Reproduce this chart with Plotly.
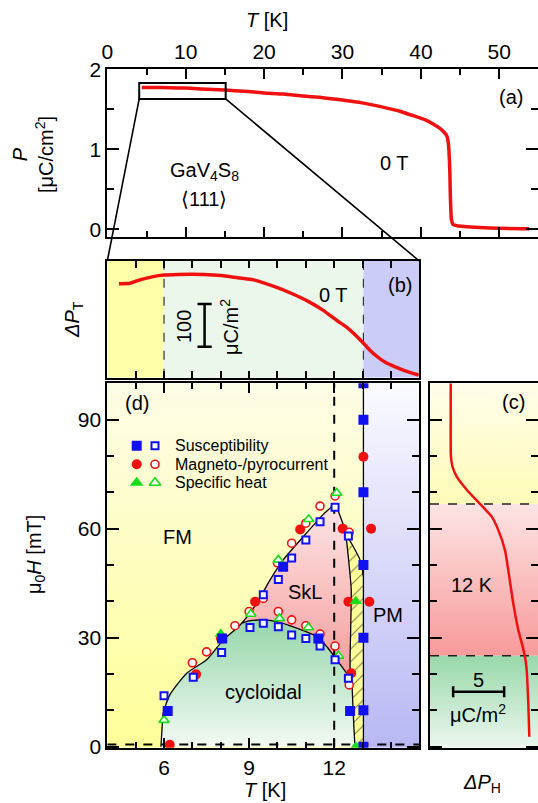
import plotly.graph_objects as go

FONT = "Liberation Sans, Arial, Helvetica, sans-serif"
W, HT = 538, 803

# ---------------- data ----------------
# (a) polarisation P(T) at 0 T  [uC/cm^2]
pa_T = [4.4, 6, 8, 10, 12, 15, 17.5, 20, 22.5, 25, 27.5, 30, 32.5, 35, 37.5, 39, 40.5, 41.5,
        42.3, 42.9, 43.3, 43.5, 43.6, 43.7, 43.75, 43.82, 43.9, 44.1, 44.6, 45.5, 47.5, 50, 53.8]
pa_P = [1.772, 1.772, 1.770, 1.765, 1.755, 1.740, 1.725, 1.705, 1.690, 1.665, 1.645, 1.615, 1.580,
        1.530, 1.470, 1.420, 1.370, 1.320, 1.270, 1.220, 1.170, 1.08, 0.95, 0.70, 0.45, 0.25, 0.12,
        0.06, 0.045, 0.035, 0.022, 0.012, 0.008]

# (b) Delta P_T at 0 T  [uC/m^2, arbitrary offset]
pb_T = [4.41, 4.8, 5.15, 5.62, 6.0, 6.5, 7.0, 7.74, 8.3, 8.69, 9.15, 9.9, 10.5, 11.1, 11.6,
        12.07, 12.4, 12.68, 12.98, 13.25, 13.52, 13.8, 14.13, 14.5, 14.98]
pb_dP = [220, 221, 229, 236.5, 240, 241.5, 242, 240.5, 237, 233, 228.8, 213, 197, 178, 158,
         135, 120, 104, 84.3, 65, 49, 36, 25.8, 16, 6.3]

# (c) Delta P_H at 12 K  [uC/m^2, arbitrary offset] vs mu0H [mT]
pc_H = [100, 90, 80, 77.1, 74.3, 70.7, 66.8, 63.3, 59.6, 54.1, 46.8, 39.5, 32.1, 27.5, 24.8, 21.1, 11.9, 2.75]
pc_dP = [2.03, 2.03, 2.05, 2.2, 2.62, 3.6, 4.9, 6.05, 6.7, 7.35, 7.77, 8.16, 8.66, 9.09, 9.31, 9.48, 9.64, 9.74]

# (d) phase boundaries (T [K], mu0H [mT])
fm_T = [5.89, 5.93, 5.97, 6.2, 6.8, 7.5, 8.09, 8.68, 9.27, 9.74, 10.2, 10.91, 11.6, 12.05]
fm_H = [0, 5, 9.2, 14.2, 20.2, 23.9, 29.4, 33.5, 39.5, 45.9, 51.4, 57.8, 63.8, 67.0]
dome_T = [8.75, 9.0, 9.5, 9.97, 10.68, 11.38, 11.74, 12.09, 12.44, 12.62]
dome_H = [34.0, 34.6, 34.9, 34.4, 32.6, 30.3, 27.5, 23.9, 20.2, 18.0]
sklr_T = [12.05, 12.15, 12.38, 12.5, 12.6, 12.58, 12.56, 12.62, 12.67, 12.73]
sklr_H = [67.0, 64.7, 59.6, 52.0, 43.1, 32.0, 22.0, 18.0, 9.2, 0]
hatch_T = [12.40, 12.91, 13.03]
hatch_H = [58.8, 51.4, 46.8]
T_PM = 13.03
T_CYC = 6.0
T_MEAS = 12.0
H_SKL_LO, H_SKL_HI = 25.0, 66.8

# (d) data points
chi_f_T = [13.03, 13.03, 13.03, 13.03, 13.03, 13.03, 13.03, 6.13, 8.05, 10.2, 11.44, 12.56]
chi_f_H = [0, 10, 30, 50, 70, 90, 100, 9.8, 29.8, 49.5, 29.8, 9.8]
chi_o_T = [6.0, 7.03, 8.03, 9.03, 9.5, 10.03, 10.5, 11.0, 11.5, 12.03, 12.5,
           9.5, 10.03, 10.5, 11.0, 11.5, 12.03, 12.5]
chi_o_H = [14.0, 19.1, 25.9, 32.8, 34.0, 33.0, 30.7, 29.8, 27.7, 23.9, 18.8,
           41.8, 46.0, 51.9, 56.9, 61.9, 65.9, 58.0]
mc_f_T = [6.2, 7.13, 8.05, 9.21, 10.8, 12.3, 13.3, 12.5, 13.24, 12.6, 13.03]
mc_f_H = [0.5, 19.9, 29.8, 39.9, 59.8, 60.0, 60.0, 39.9, 39.9, 20.2, 79.8]
mc_o_T = [7.0, 7.5, 8.0, 8.5, 9.0, 9.5, 10.0, 10.5, 11.0, 11.5, 12.03, 12.53,
          10.03, 10.5, 11.0, 11.5, 12.03, 12.53]
mc_o_H = [23.1, 26.1, 29.8, 33.3, 37.2, 40.8, 50.6, 56.0, 61.5, 66.2, 69.0, 59.0,
          37.2, 34.9, 33.3, 31.0, 27.7, 17.0]
sh_f_T = [8.0, 12.76, 12.76]
sh_f_H = [31.0, 40.0, 0.0]
sh_o_T = [6.0, 9.06, 10.07, 11.09, 12.15, 10.03, 11.1, 12.09]
sh_o_H = [7.3, 36.5, 35.3, 32.8, 25.0, 51.4, 62.6, 69.8]

legend_labels = ["Susceptibility", "Magneto-/pyrocurrent", "Specific heat"]

# ---------------- layout geometry (pixels) ----------------
RA_X, RA_Y = [0, 54.94], [-0.1, 2.0]
RB_X, RB_Y = [4, 15], [0, 273]
RD_X, RD_Y = [4, 15], [-0.28, 100]
RC_X, RC_Y = [0, 10.59], RD_Y

PA = dict(x0=107.3, x1=538, y0=69.3, y1=237.3)
PB = dict(x0=107.3, x1=419.3, y0=261, y1=377.7)
PD = dict(x0=107.3, x1=419.3, y0=383.3, y1=747.7)
PC = dict(x0=430, x1=538, y0=383.3, y1=747.7)


def fx(x):
    return x / W


def fy(y):
    return 1 - y / HT


def dom(p):
    return [fx(p["x0"]), fx(p["x1"])], [fy(p["y1"]), fy(p["y0"])]


def data_to_px(p, rx, ry, xv, yv):
    x = p["x0"] + (xv - rx[0]) / (rx[1] - rx[0]) * (p["x1"] - p["x0"])
    y = p["y1"] - (yv - ry[0]) / (ry[1] - ry[0]) * (p["y1"] - p["y0"])
    return x, y


def px_to_data(p, rx, ry, x, y):
    xv = rx[0] + (x - p["x0"]) / (p["x1"] - p["x0"]) * (rx[1] - rx[0])
    yv = ry[0] + (p["y1"] - y) / (p["y1"] - p["y0"]) * (ry[1] - ry[0])
    return xv, yv


BLUE = "#1010f0"
RED = "#f01010"
GREEN = "#18dd18"

fig = go.Figure()


def poly(xs, ys, xa, ya, cbot, ctop, pattern=None):
    kw = dict(x=xs, y=ys, xaxis=xa, yaxis=ya, mode="lines", fill="toself",
              line=dict(width=0, color="rgba(0,0,0,0)"), hoverinfo="skip", showlegend=False)
    if pattern is not None:
        kw["fillcolor"] = cbot
        kw["fillpattern"] = pattern
    else:
        kw["fillgradient"] = dict(type="vertical", colorscale=[[0, cbot], [1, ctop]])
    fig.add_trace(go.Scatter(**kw))


# ---- panel (b) backgrounds ----
poly([RB_X[0], T_CYC, T_CYC, RB_X[0]], [RB_Y[0], RB_Y[0], RB_Y[1], RB_Y[1]], "x2", "y2", "#ffffaa", "#ffffaa")
poly([T_CYC, T_PM, T_PM, T_CYC], [RB_Y[0], RB_Y[0], RB_Y[1], RB_Y[1]], "x2", "y2", "#eaf7ea", "#eaf7ea")
poly([T_PM, RB_X[1], RB_X[1], T_PM], [RB_Y[0], RB_Y[0], RB_Y[1], RB_Y[1]], "x2", "y2", "#ccccf8", "#ccccf8")

# ---- panel (d) backgrounds ----
poly([RD_X[0], T_PM, T_PM, RD_X[0]], [RD_Y[0], RD_Y[0], RD_Y[1], RD_Y[1]], "x3", "y3", "#ffff99", "#fdfce6")
poly([T_PM, RD_X[1], RD_X[1], T_PM], [RD_Y[0], RD_Y[0], RD_Y[1], RD_Y[1]], "x3", "y3", "#b8b8f4", "#fafaff")
# cycloidal
i_join = 8
cyc_x = fm_T[:i_join] + [dome_T[0]] + dome_T + sklr_T[7:]
cyc_y = fm_H[:i_join] + [dome_H[0]] + dome_H + sklr_H[7:]
poly(cyc_x, cyc_y, "x3", "y3", "#f2faf3", "#96d6aa")
# skyrmion lattice
skl_x = [dome_T[0]] + fm_T[i_join:] + sklr_T[:8] + dome_T[::-1]
skl_y = [dome_H[0]] + fm_H[i_join:] + sklr_H[:8] + dome_H[::-1]
poly(skl_x, skl_y, "x3", "y3", "#f59a9a", "#fde6e6")
# hatched coexistence region
hx = hatch_T + [T_PM, sklr_T[-1]] + sklr_T[::-1][:7]
hy = hatch_H + [0, 0] + sklr_H[::-1][:7]
poly(hx, hy, "x3", "y3", "#ffff99", None,
     pattern=dict(shape="/", fgcolor="black", bgcolor="#ffff99", size=9, solidity=0.12))

# ---- panel (c) backgrounds ----
poly([RC_X[0], RC_X[1], RC_X[1], RC_X[0]], [H_SKL_HI] * 2 + [RC_Y[1]] * 2, "x4", "y4", "#fefbb8", "#fffde9")
poly([RC_X[0], RC_X[1], RC_X[1], RC_X[0]], [H_SKL_LO] * 2 + [H_SKL_HI] * 2, "x4", "y4", "#f89a9a", "#fde4e4")
poly([RC_X[0], RC_X[1], RC_X[1], RC_X[0]], [RC_Y[0]] * 2 + [H_SKL_LO] * 2, "x4", "y4", "#ecf7ee", "#98d8aa")


def line(xs, ys, xa, ya, color="black", width=1.3, dash=None):
    fig.add_trace(go.Scatter(x=xs, y=ys, xaxis=xa, yaxis=ya, mode="lines",
                             line=dict(color=color, width=width, dash=dash, shape="spline", smoothing=0.6),
                             hoverinfo="skip", showlegend=False))


# panel (b) dashed borders
line([T_CYC, T_CYC], RB_Y, "x2", "y2", "#333", 1.2, "dash")
line([T_PM, T_PM], RB_Y, "x2", "y2", "#333", 1.2, "dash")

# panel (d) boundaries
line(fm_T, fm_H, "x3", "y3")
line(dome_T, dome_H, "x3", "y3")
line(sklr_T, sklr_H, "x3", "y3")
line(hatch_T, hatch_H, "x3", "y3")
line([T_PM, T_PM], RD_Y, "x3", "y3")
line([T_MEAS, T_MEAS], RD_Y, "x3", "y3", "black", 2, "dash")
line(RD_X, [0.6, 0.6], "x3", "y3", "black", 2, "dash")

# panel (c) dashed
line(RC_X, [H_SKL_HI] * 2, "x4", "y4", "#222", 1.5, "dash")
line(RC_X, [H_SKL_LO] * 2, "x4", "y4", "#222", 1.5, "dash")

# curves
line(pa_T, pa_P, "x", "y", RED, 3.5)
line(pb_T, pb_dP, "x2", "y2", RED, 3.5)
line(pc_dP, pc_H, "x4", "y4", RED, 2.5)


def markers(xs, ys, symbol, fill, edge, size, lw):
    fig.add_trace(go.Scatter(x=xs, y=ys, xaxis="x3", yaxis="y3", mode="markers",
                             marker=dict(symbol=symbol, color=fill, size=size,
                                         line=dict(color=edge, width=lw)),
                             hoverinfo="skip", showlegend=False))


markers(mc_f_T, mc_f_H, "circle", RED, RED, 10, 0)
markers(mc_o_T, mc_o_H, "circle", "white", RED, 8, 1.6)
markers(sh_f_T, sh_f_H, "triangle-up", GREEN, GREEN, 11, 0)
markers(sh_o_T, sh_o_H, "triangle-up", "white", GREEN, 9, 1.6)
markers(chi_o_T, chi_o_H, "square", "white", BLUE, 7, 2)
markers(chi_f_T, chi_f_H, "square", BLUE, BLUE, 10, 0)

# legend glyphs in panel (d)
leg_rows_px = [445.7, 464.3, 482.7]
leg_styles = [("square", BLUE, 10, 7, 2), ("circle", RED, 10, 8, 1.6), ("triangle-up", GREEN, 12, 10, 1.6)]
for ypx, (sym, col, sf, so, lw) in zip(leg_rows_px, leg_styles):
    t1, h1 = px_to_data(PD, RD_X, RD_Y, 136.7, ypx)
    t2, _ = px_to_data(PD, RD_X, RD_Y, 155.0, ypx)
    markers([t1], [h1], sym, col, col, sf, 0)
    markers([t2], [h1], sym, "white", col, so, lw)

# ---------------- axes ----------------
ax_common = dict(showline=True, linecolor="black", linewidth=2, mirror="allticks", ticks="inside",
                 tickcolor="black", tickwidth=1.6, showgrid=False, zeroline=False, automargin=False,
                 tickfont=dict(family=FONT, size=21, color="black"))

dA = dom(PA)
dB = dom(PB)
dD = dom(PD)
dC = dom(PC)

fig.update_layout(
    xaxis=dict(ax_common, domain=dA[0], range=RA_X, anchor="y", side="top", dtick=10, ticklen=10,
               minor=dict(dtick=5, ticklen=6, ticks="inside", tickcolor="black", tickwidth=1.6)),
    yaxis=dict(ax_common, domain=dA[1], range=RA_Y, anchor="x", dtick=1, ticklen=12,
               minor=dict(dtick=0.5, ticklen=7, ticks="inside", tickcolor="black", tickwidth=1.6)),
    xaxis2=dict(ax_common, domain=dB[0], range=RB_X, anchor="y2", dtick=1, ticklen=7, showticklabels=False),
    yaxis2=dict(ax_common, domain=dB[1], range=RB_Y, anchor="x2", ticks="", showticklabels=False),
    xaxis3=dict(ax_common, domain=dD[0], range=RD_X, anchor="y3", tickvals=[6, 9, 12], ticklen=10,
                minor=dict(dtick=1, ticklen=6, ticks="inside", tickcolor="black", tickwidth=1.6)),
    yaxis3=dict(ax_common, domain=dD[1], range=RD_Y, anchor="x3", tickvals=[0, 30, 60, 90], ticklen=12,
                minor=dict(dtick=10, ticklen=7, ticks="inside", tickcolor="black", tickwidth=1.6)),
    xaxis4=dict(ax_common, domain=dC[0], range=RC_X, anchor="y4", ticks="", showticklabels=False),
    yaxis4=dict(ax_common, domain=dC[1], range=RC_Y, anchor="x4", tickvals=[0, 30, 60, 90], ticklen=12,
                showticklabels=False,
                minor=dict(dtick=10, ticklen=7, ticks="inside", tickcolor="black", tickwidth=1.6)),
    width=W, height=HT, margin=dict(l=0, r=0, t=0, b=0, autoexpand=False),
    paper_bgcolor="white", plot_bgcolor="rgba(0,0,0,0)", showlegend=False,
    font=dict(family=FONT, size=20, color="black"),
)

# ---------------- shapes: zoom box + connectors, scale bars ----------------
box_P = [1.63, 1.83]
shapes = [dict(type="rect", xref="x", yref="y", x0=RB_X[0] + 0.07, x1=RB_X[1] + 0.1, y0=box_P[0], y1=box_P[1],
               line=dict(color="black", width=2))]
blx, bly = data_to_px(PA, RA_X, RA_Y, RB_X[0] + 0.07, box_P[0])
brx, bry = data_to_px(PA, RA_X, RA_Y, RB_X[1] + 0.1, box_P[0])
shapes.append(dict(type="line", xref="paper", yref="paper", x0=fx(blx), y0=fy(bly),
                   x1=fx(PB["x0"]), y1=fy(PB["y0"]), line=dict(color="black", width=1.6)))
shapes.append(dict(type="line", xref="paper", yref="paper", x0=fx(brx), y0=fy(bry),
                   x1=fx(PB["x1"]), y1=fy(PB["y0"]), line=dict(color="black", width=1.6)))

# scale bar (b): 100 uC/m^2
sb_T, sb_lo = 7.43, 72.6
shapes += [
    dict(type="line", xref="x2", yref="y2", x0=sb_T, x1=sb_T, y0=sb_lo, y1=sb_lo + 100, line=dict(color="black", width=2.5)),
    dict(type="line", xref="x2", yref="y2", x0=sb_T - 0.25, x1=sb_T + 0.25, y0=sb_lo, y1=sb_lo, line=dict(color="black", width=2.5)),
    dict(type="line", xref="x2", yref="y2", x0=sb_T - 0.25, x1=sb_T + 0.25, y0=sb_lo + 100, y1=sb_lo + 100, line=dict(color="black", width=2.5)),
]
# scale bar (c): 5 uC/m^2
sc_H, sc_lo = 15.1, 2.27
shapes += [
    dict(type="line", xref="x4", yref="y4", x0=sc_lo, x1=sc_lo + 5, y0=sc_H, y1=sc_H, line=dict(color="black", width=2.5)),
    dict(type="line", xref="x4", yref="y4", x0=sc_lo, x1=sc_lo, y0=sc_H - 1.5, y1=sc_H + 1.5, line=dict(color="black", width=2.5)),
    dict(type="line", xref="x4", yref="y4", x0=sc_lo + 5, x1=sc_lo + 5, y0=sc_H - 1.5, y1=sc_H + 1.5, line=dict(color="black", width=2.5)),
]
fig.update_layout(shapes=shapes)

# ---------------- annotations ----------------
def ann(text, x, y, size=20, angle=0, xanchor="center"):
    fig.add_annotation(text=text, x=fx(x), y=fy(y), xref="paper", yref="paper", showarrow=False,
                       xanchor=xanchor, yanchor="middle", textangle=angle,
                       font=dict(family=FONT, size=size, color="black"))


ann("<i>T</i> [K]", 267, 20)
ann("<i>P</i><br>[μC/cm<sup>2</sup>]", 33, 155, angle=-90)
ann("GaV<sub>4</sub>S<sub>8</sub>", 204, 172)
ann("⟨111⟩", 204, 199)
ann("0 T", 394, 163)
ann("(a)", 511, 97)
ann("(b)", 400, 285)
ann("0 T", 333, 295)
ann("100", 184, 327, angle=-90)
ann("μC/m<sup>2</sup>", 229, 327, angle=-90)
ann("<i>ΔP</i><sub>T</sub>", 73, 320, angle=-90)
ann("(d)", 137, 403)
ann("FM", 177, 537)
ann("SkL", 305, 592)
ann("PM", 388, 615)
ann("cycloidal", 263, 692)
ann("μ<sub>0</sub><i>H</i> [mT]", 35, 555, angle=-90)
ann("<i>T</i> [K]", 265, 790)
ann("(c)", 513, 402)
ann("12 K", 472, 585)
ann("5", 478, 680)
ann("μC/m<sup>2</sup>", 478, 713)
ann("<i>ΔP</i><sub>H</sub>", 482, 783)
for ypx, lab in zip(leg_rows_px, legend_labels):
    ann(lab, 172.7, ypx, size=16, xanchor="left")

fig.write_html("out.html", config={"displayModeBar": False},
               post_script="document.body.style.margin='0';document.body.style.overflow='hidden';")
